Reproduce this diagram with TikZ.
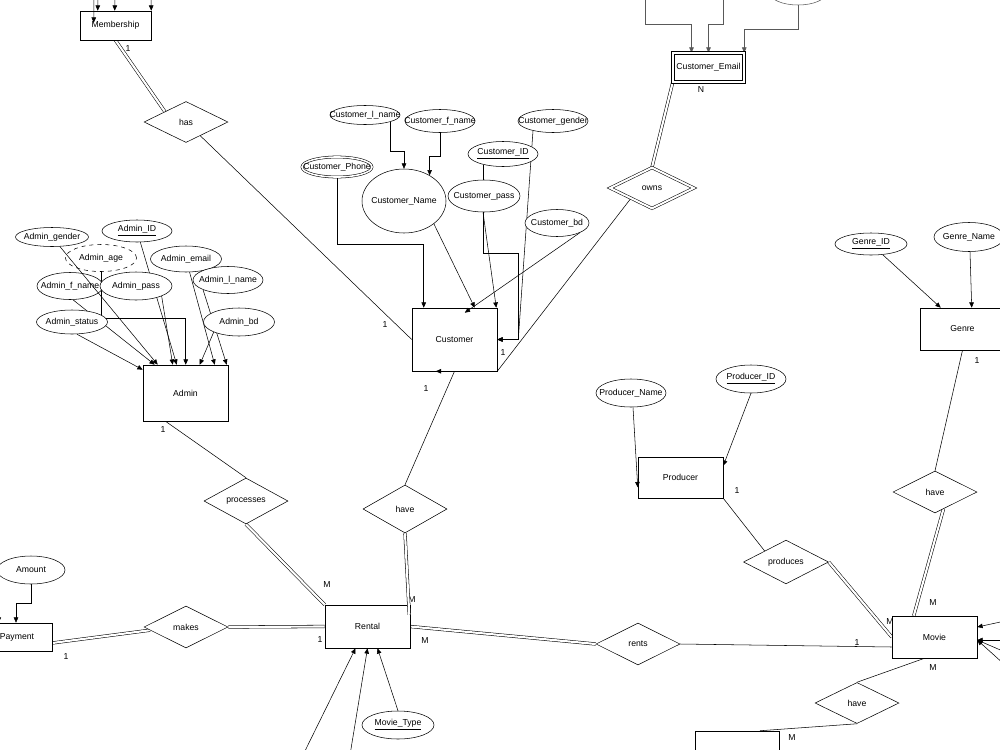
\documentclass[tikz,border=0pt]{standalone}
\usepackage{fontspec}
\setmainfont{Liberation Sans}
\usetikzlibrary{shapes.geometric,arrows.meta,calc}
\pgfdeclarelayer{back}
\pgfdeclarelayer{bg}
\pgfsetlayers{back,bg,main}
\begin{document}
\begin{tikzpicture}[x=0.75pt,y=-0.75pt,
  every node/.style={font=\fontsize{6.5pt}{7.5pt}\selectfont, inner sep=0pt},
  every label/.style={font=\fontsize{6.5pt}{7.5pt}\selectfont, inner sep=0pt},
  line width=0.5pt,
  sz/.style 2 args={minimum width=#1*0.75pt, minimum height=#2*0.75pt},
  ent/.style={draw, rectangle, fill=white},
  attr/.style={draw, ellipse, fill=white},
  txt/.style={label=center:{#1}},
  rel/.style={draw, diamond, fill=white},
  arr/.style={-{Triangle[length=4pt,width=3.4pt]}},
  dbl/.style={double, double distance=1.6pt},
  grey/.style={draw=black!65},
]
\useasboundingbox (0,0) rectangle (1000,750);
\begin{pgfonlayer}{back}
\fill[white] (0,0) rectangle (1000,750);
\end{pgfonlayer}

% ---------- entities ----------
\node[ent, sz={71}{29}] (memb) at (115.5,25.5) {Membership};
\node[ent, sz={85}{63}] (cust) at (454.5,339.5) {Customer};
\node[ent, double, double distance=2pt, sz={71}{29}] (cemail) at (708.5,67.5) {Customer\_Email};
\node[ent, sz={85}{56}] (admin) at (185.5,393) {Admin};
\node[ent, sz={85}{43}] (rental) at (367.5,626.5) {Rental};
\node[ent, sz={70}{28}] (payment) at (17,637) {Payment};
\node[ent, sz={85}{41}] (producer) at (680.5,477.5) {Producer};
\node[ent, sz={85}{42}] (genre) at (962.5,329) {Genre};
\node[ent, sz={85}{42}] (movie) at (934.5,637) {Movie};
\node[ent, sz={84}{42}] (bbox) at (737,752) {};

% ---------- relationships ----------
\node[rel, sz={84}{41}] (has) at (186,122) {has};
\node[rel, double, double distance=1.5pt, sz={84}{41}] (owns) at (652,188) {owns};
\node[rel, sz={84}{41}] (processes) at (246,501) {processes};
\node[rel, sz={84}{48}] (have1) at (405,509) {have};
\node[rel, sz={84}{42}] (makes) at (186,627) {makes};
\node[rel, sz={84}{42}] (rents) at (638,644) {rents};
\node[rel, sz={85}{41}] (produces) at (786,562) {produces};
\node[rel, sz={84}{42}] (have2) at (935,492) {have};
\node[rel, sz={84}{41}] (have3) at (857,703) {have};

% ---------- attributes ----------
\node[attr, sz={70}{19}, txt={Customer\_l\_name}] (cln) at (365,115) {};
\node[attr, sz={70}{23}, txt={Customer\_f\_name}] (cfn) at (440,121) {};
\node[attr, sz={70}{23}, txt={Customer\_gender}] (cgen) at (553,121) {};
\node[attr, sz={70}{25}, txt={\underline{Customer\_ID}}] (cid) at (503,154) {};
\node[attr, double, double distance=1.2pt, sz={70}{20}, txt={Customer\_Phone}] (cphone) at (337,167) {};
\node[attr, sz={84}{64}, txt={Customer\_Name}] (cname) at (404,201) {};
\node[attr, sz={72}{32}, txt={Customer\_pass}] (cpass) at (484,196) {};
\node[attr, sz={64}{27}, txt={Customer\_bd}] (cbd) at (557,223) {};

\node[attr, dashed, sz={71}{27}, txt={Admin\_age}] (aage) at (101,258) {};
\node[attr, sz={73}{19}, txt={Admin\_gender}] (agen) at (52,237) {};
\node[attr, sz={70}{22}, txt={\underline{Admin\_ID}}] (aid) at (137,231) {};
\node[attr, sz={66}{27}, txt={Admin\_f\_name}] (afname) at (70,286) {};
\node[attr, sz={72}{28}, txt={Admin\_pass}] (apass) at (136,286) {};
\node[attr, sz={71}{26}, txt={Admin\_email}] (aemail) at (186,259) {};
\node[attr, sz={70}{27}, txt={Admin\_l\_name}] (alname) at (228,280) {};
\node[attr, sz={71}{24}, txt={Admin\_status}] (astatus) at (72,322) {};
\node[attr, sz={71}{28}, txt={Admin\_bd}] (abd) at (239,322) {};

\node[attr, sz={68}{28}, txt={Amount}] (amount) at (31,570) {};
\node[attr, sz={70}{28}, txt={Producer\_Name}] (pname) at (631,393) {};
\node[attr, sz={70}{28}, txt={\underline{Producer\_ID}}] (pid) at (751,379) {};
\node[attr, sz={72}{22}, txt={\underline{Genre\_ID}}] (gid) at (871,244) {};
\node[attr, sz={70}{29}, txt={Genre\_Name}] (gname) at (969,237) {};
\node[attr, sz={72}{28}, txt={\underline{Movie\_Type}}] (mtype) at (398,725) {};
\node[attr, grey, sz={56}{24}] (topell) at (798,-7) {};

% ---------- free ends ----------
\coordinate (m1) at (94,-8);
\coordinate (m2) at (98,-8);
\coordinate (m3) at (115,-8);
\coordinate (m4) at (151,-8);
\coordinate (e1) at (645,-10);
\coordinate (e2) at (723,-10);
\coordinate (pleft) at (-1,590);
\coordinate (r1) at (1005,621);
\coordinate (r2) at (1005,640);
\coordinate (r3) at (1005,652);
\coordinate (r4) at (1005,665);
\coordinate (b1) at (303,755);
\coordinate (b2) at (350,755);

% ---------- labels ----------
\node at (128,49) {1};
\node at (385,325) {1};
\node at (503,353) {1};
\node at (426,389) {1};
\node at (701,90) {N};
\node at (163,430) {1};
\node at (327,585) {M};
\node at (412,600) {M};
\node at (320,640) {1};
\node at (66,657) {1};
\node at (425,641) {M};
\node at (737,491) {1};
\node at (890,622) {M};
\node at (933,603) {M};
\node at (977,361) {1};
\node at (857,643) {1};
\node at (933,668) {M};
\node at (792,738) {M};

% ---------- connectors behind nodes ----------
\begin{pgfonlayer}{bg}
\draw[dbl] (memb.south) -- ($(has.west)!0.5!(has.north)$);
\draw (has) -- (cust.west);
% customer
\draw[arr] (cln.south east) -- ++(0,29) -| (cname.north);
\draw[arr] (cfn.south) -- ++(0,23) -| (cname.45);
\draw[arr] (cphone.south) -- ++(0,67) -| ($(cust.north west)+(12,0)$);
\draw[arr] (cname.south east) -- ($(cust.north west)+(63,0)$);
\draw[arr] ($(cpass.south)+(-1,0)$) -- ($(cust.north east)+(-1,0)$);
\draw[arr] ($(cid.south)+(-20,-2)$) -- ($(cid.south)+(-20,86.5)$) -| ($(cust.east)+(21,0)$) -- (cust.east);
\draw[arr] ($(cgen.south)+(-20,-2)$) -- ($(cust.east)+(21,0)$) -- (cust.east);
\draw[dbl] (owns.north) -- (cemail.south west);
\draw ($(owns.west)!0.5!(owns.south)$) -- (cust.south east);
\draw[arr, grey] (e1) -- ++(0,34) -| ($(cemail.north)+(-17,0)$);
\draw[arr, grey] (e2) -- ++(0,34) -| (cemail.north);
\draw[arr, grey] (topell.south) -- ++(0,24) -| (cemail.north east);
% admin
\draw[arr] ($(afname.south)+(3,0)$) -- ($(admin.north west)+(12,0)$);
\draw[arr] ($(astatus.south)+(5,0)$) -- ($(admin.north west)+(0,5)$);
\draw[arr] (aage.south) -- ++(0,46.5) -| ($(admin.north west)+(43,0)$);
\draw[arr] (aid) -- ($(admin.north west)+(34,0)$);
\draw[arr] (apass.south east) -- ($(admin.north west)+(30,0)$);
\draw[arr] (aemail) -- ($(admin.north west)+(72,0)$);
\draw[arr] (alname.south west) -- ($(admin.north west)+(84,0)$);
\draw[arr] (abd.south west) -- ($(admin.north west)+(57,0)$);
\draw ($(admin.south)+(-20,0)$) -- (processes.north);
\draw[dbl] (processes.south) -- (rental.north west);
\draw (have1.north) -- (cust.south);
\draw[dbl] (makes.east) -- (rental.west);
\draw[dbl] ($(payment.east)+(0,6)$) -- ($(makes.west)!0.15!(makes.south)$);
\draw[arr] (amount.south) -- ++(0,19) -| ($(payment.north)+(-1,0)$);
\draw[arr] (pleft) -- ($(payment.north west)+(17,0)$);
\draw[dbl] (rental.east) -- (rents.west);
\draw (rents.east) -- ($(movie.west)+(0,10)$);
\draw[dbl] (produces.east) -- (movie.west);
\draw (producer.south east) -- ($(produces.north)!0.5!(produces.west)$);
\draw[arr] (pid.south) -- ($(producer.north east)+(0,9)$);
\draw[arr] (gid) -- ($(genre.north west)+(21,0)$);
\draw[arr] ($(gname.south)+(1,0)$) -- ($(genre.north west)+(52,0)$);
\draw (genre.south) -- (have2.north);
\draw[dbl] ($(have2.south)!0.2!(have2.east)$) -- ($(movie.north west)+(22,0)$);
\draw ($(movie.south)+(-10,0)$) -- (have3.north);
\draw (have3.south) -- ($(bbox.north)+(23,0)$);
\draw[arr] (r1) -- ($(movie.east)+(0,-10)$);
\draw[arr] (r2) -- ($(movie.east)+(0,3)$);
\draw[arr] (r3) -- ($(movie.east)+(0,3)$);
\draw[arr] (r4) -- ($(movie.east)+(0,3)$);
\draw[arr] (b1) -- ($(rental.south)+(-12,0)$);
\draw[arr] (b2) -- (rental.south);
\draw[arr] (mtype.north) -- ($(rental.south)+(10,0)$);
\end{pgfonlayer}

% ---------- connectors over nodes ----------
\draw[arr] (m1) -- ($(memb.north west)+(14,12)$);
\draw[arr] (m2) -- ($(memb.north west)+(18,0)$);
\draw[arr] (m3) -- ($(memb.north west)+(35,0)$);
\draw[arr] (m4) -- (memb.north east);
\draw[arr] (agen) -- ($(admin.north west)+(15,0)$);
\draw[arr] (cbd.south east) -- ($(cust.north west)+(53,5)$);
\draw[dbl] (have1.south) -- ($(rental.north east)+(-1,10)$);
\draw[arr] ($(pname.south)+(2,0)$) -- ($(producer.south west)+(0,-11)$);
\draw[arr] ($(cust.south west)+(30,0)$) -- ($(cust.south west)+(24,0)$);
\end{tikzpicture}
\end{document}
